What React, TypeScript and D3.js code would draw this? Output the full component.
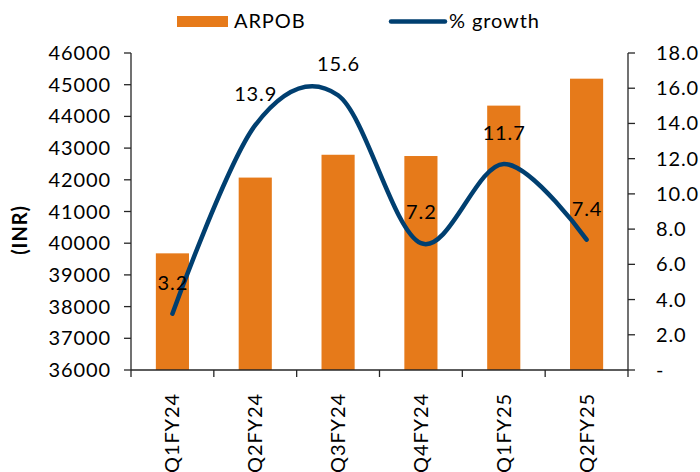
import React from "react";
import * as d3 from "d3";

const categories = ["Q1FY24", "Q2FY24", "Q3FY24", "Q4FY24", "Q1FY25", "Q2FY25"];
const arpob = [39680, 42070, 42790, 42750, 44340, 45190];
const growth = [3.2, 13.9, 15.6, 7.2, 11.7, 7.4];
const leftTicks = [36000, 37000, 38000, 39000, 40000, 41000, 42000, 43000, 44000, 45000, 46000];
const rightTicks = [0, 2, 4, 6, 8, 10, 12, 14, 16, 18];

const W = 700;
const H = 472;
const LEFT = 131;
const RIGHT = 628;
const TOP = 53;
const BOTTOM = 370;
const ORANGE = "#E67A1A";
const NAVY = "#003F70";
const AXIS = "#262626";
const FONT = "Lato, 'Open Sans', sans-serif";
const LS = 0.9;

export default function App() {
  const x = d3.scaleBand<string>().domain(categories).range([LEFT, RIGHT]).paddingInner(0.6).paddingOuter(0.3);
  const yL = d3.scaleLinear().domain([36000, 46000]).range([BOTTOM, TOP]);
  const yR = d3.scaleLinear().domain([0, 18]).range([BOTTOM, TOP]);
  const bw = x.bandwidth();
  const cx = (c: string) => (x(c) as number) + bw / 2;
  const step = x.step();

  const line = d3
    .line<number>()
    .x((_, i) => cx(categories[i]))
    .y((d) => yR(d))
    .curve(d3.curveCatmullRom.alpha(0));

  const boundaries = d3.range(categories.length + 1).map((i) => LEFT + i * step);

  return (
    <svg
      width={W}
      height={H}
      style={{ position: "absolute", left: 0, top: 0, background: "#fff" }}
      fontFamily={FONT}
      letterSpacing={LS}
    >
      {/* bars */}
      {categories.map((c, i) => (
        <rect key={c} x={x(c)} y={yL(arpob[i])} width={bw} height={BOTTOM - yL(arpob[i])} fill={ORANGE} />
      ))}

      {/* line */}
      <path d={line(growth) || ""} fill="none" stroke={NAVY} strokeWidth={4.5} strokeLinecap="round" />

      {/* data labels */}
      {growth.map((g, i) => (
        <text key={i} x={cx(categories[i]) + LS / 2} y={yR(g) - 31} dy="0.35em" textAnchor="middle" fontSize={20} fill="#000">
          {g.toFixed(1)}
        </text>
      ))}

      {/* left axis */}
      <line x1={LEFT} x2={LEFT} y1={TOP} y2={BOTTOM} stroke={AXIS} strokeWidth={1.3} />
      {leftTicks.map((t) => (
        <g key={t}>
          <line x1={LEFT - 7} x2={LEFT} y1={yL(t)} y2={yL(t)} stroke={AXIS} strokeWidth={1.3} />
          <text x={111} y={yL(t)} dy="0.35em" textAnchor="end" fontSize={20} fill="#000">
            {t}
          </text>
        </g>
      ))}

      {/* right axis */}
      <line x1={RIGHT} x2={RIGHT} y1={TOP} y2={BOTTOM} stroke={AXIS} strokeWidth={1.3} />
      {rightTicks.map((t) => (
        <g key={t}>
          <line x1={RIGHT} x2={RIGHT + 7} y1={yR(t)} y2={yR(t)} stroke={AXIS} strokeWidth={1.3} />
          <text x={656} y={yR(t)} dy="0.35em" textAnchor="start" fontSize={20} fill="#000">
            {t === 0 ? "-" : t.toFixed(1)}
          </text>
        </g>
      ))}

      {/* x axis */}
      <line x1={LEFT} x2={RIGHT} y1={BOTTOM} y2={BOTTOM} stroke={AXIS} strokeWidth={1.3} />
      {boundaries.map((b, i) => (
        <line key={i} x1={b} x2={b} y1={BOTTOM} y2={BOTTOM + 7} stroke={AXIS} strokeWidth={1.3} />
      ))}
      {categories.map((c) => (
        <text
          key={c}
          transform={`translate(${cx(c)},393) rotate(-90)`}
          dy="0.35em"
          textAnchor="end"
          fontSize={20}
          fill="#000"
        >
          {c}
        </text>
      ))}

      {/* y title */}
      <text transform="translate(20,230) rotate(-90)" dy="0.35em" textAnchor="middle" fontSize={20} fontWeight="bold" fill="#000">
        (INR)
      </text>

      {/* legend */}
      <rect x={177} y={16} width={51} height={11} fill={ORANGE} />
      <text x={234} y={27.5} fontSize={20} fill="#000">
        ARPOB
      </text>
      <line x1={391} x2={445} y1={21.5} y2={21.5} stroke={NAVY} strokeWidth={4.5} strokeLinecap="round" />
      <text x={449} y={27.5} fontSize={20} fill="#000">
        % growth
      </text>
    </svg>
  );
}
